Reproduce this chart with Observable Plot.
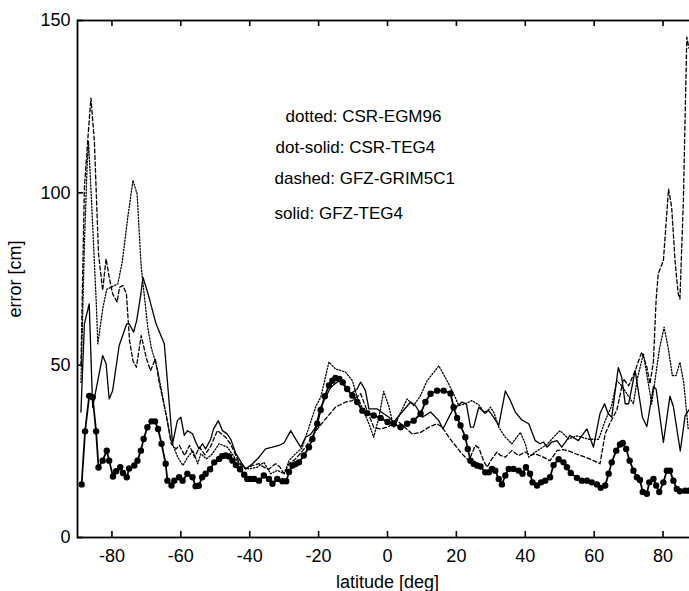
<!DOCTYPE html>
<html>
<head>
<meta charset="utf-8">
<script src="https://cdn.jsdelivr.net/npm/d3@7"></script>
<script src="https://cdn.jsdelivr.net/npm/@observablehq/plot@0.6"></script>
<style>
  html, body { margin: 0; padding: 0; background: white; overflow: hidden; }
  #chart svg { max-width: none !important; display: block; }
</style>
</head>
<body>
<div id="chart"></div>
<script>
// ---- axis ticks ----
const xTicks = [-80, -60, -40, -20, 0, 20, 40, 60, 80];
const yTicks = [0, 50, 100, 150];

// ---- dotted: CSR-EGM96 ----
const latEGM96 = [-89,-88,-87.2,-86.8,-85.8,-84.6,-84.1,-82.6,-81.5,-80.2,-78.3,-77,-75.4,-73.9,-72.7,-71.5,-69.6,-68.6,-66.7,-64.7,-62.8,-60.9,-59.4,-58,-56.5,-55.1,-54.2,-52.6,-50.8,-48.9,-46.5,-44.1,-42.1,-40.2,-37.8,-35.9,-33.9,-32,-30,-28.6,-26.7,-24.8,-22.8,-20.9,-19.4,-17,-15.1,-12.2,-10.2,-8.8,-7,-5.4,-4,-2.5,-1.1,0.4,1.8,4.3,5.7,7.6,9.5,11.5,14.9,17.3,19.5,20.7,22.6,24.5,26.5,28.4,29.9,31,32.3,34.2,36.1,38.6,40,41,42.5,44.3,46.3,48.2,50.1,52.6,55,58.4,61.3,63.2,65,66.6,68,69.5,71.4,72.5,74.3,75.5,76.7,78,79,80.3,81.5,82.7,83.8,84.9,86,87.3];
const errEGM96 = [45,85,108,115,95,69.2,56.2,66.8,72,72.6,73.6,80,92.9,103.6,99.7,78.4,61,55.2,48.4,37.8,28.1,23.3,20.9,23.3,25.2,21.4,24.3,22.8,24.3,27.2,26.2,22.8,20.4,19.9,20.4,21.8,18.5,19.5,18.5,22.3,24.3,26,32,37.8,40.7,50.9,48.9,48,45.5,40.7,37,33,29.1,34.9,42.4,38,32,37.3,40.2,38.3,41,45.5,49.8,45.5,41,38.3,38.8,39.7,38.5,35.9,37.8,36,32,29.1,27.2,30.5,27.2,23.3,24.5,25.7,27,29.1,31,28.6,29.5,28.5,28.5,33.9,38,45.5,44,41.7,38.8,46,53.3,46,38.8,48,55,61,55,47,47,50.9,45,31.5];

// ---- dot-solid: CSR-TEG4 ----
const latCSRTEG4 = [-88.8,-87.8,-86.6,-85.6,-84.6,-83.9,-82.7,-81.5,-80.8,-79.7,-78.8,-77.6,-76.8,-75.7,-75,-73.5,-72.6,-71.6,-70.8,-69.7,-68.5,-67.5,-66.6,-65.6,-64.4,-63.9,-62.7,-61.9,-60.5,-59.5,-58.1,-56.6,-55.7,-54.8,-53.8,-52.8,-51.5,-50.3,-48.9,-48,-47,-46,-45,-44,-42.8,-41.6,-40.7,-39.7,-38.7,-37.3,-35.9,-34.4,-33.4,-32,-30.5,-29.4,-28.6,-27.6,-26.7,-25.7,-24.3,-22.8,-21.8,-20.4,-19.4,-18.2,-17,-16,-15.1,-14,-13,-11.7,-10.2,-8.8,-7.3,-5.9,-4,-2,0,1.8,3.8,5.7,7.6,9.6,11,12.5,14.4,16.3,18.3,19.2,20.2,21.2,22.6,23.3,24.1,25,26,27,28.4,29.4,30.3,31.3,32.3,33.2,34.2,35.2,36.6,38.1,39.2,40.2,41.4,42.1,43.4,44.6,45.8,47.2,48.2,49.7,51.1,52.1,53.2,55,56.4,57.9,59.3,60.8,61.9,63.2,64.2,65.1,66.4,67.5,68.3,69.3,70.3,71.4,72.4,73.3,74.1,75.3,76,77.2,78,78.9,80.1,81.1,82,83,84,84.9,86.4,87.5];
const errCSRTEG4 = [15.4,30.8,41.1,40.7,30.8,20.3,22.3,25.2,22.3,17.7,19.2,20.4,18.7,17.5,20,20.9,22.3,25.2,28.6,32,33.7,33.7,31.5,27.2,21.4,16.5,15.1,16.5,17.5,16.5,18.5,17.5,14.9,15,17.5,18.5,19.8,21.8,22.8,23.6,23.8,23.5,22.3,21,19.8,18.2,17,17,17,16.5,18,17,15.6,17,16.3,16.3,19,20.9,21.3,21.8,23.8,26.2,28.6,33,37,41,44.1,45.5,46.3,46,45,43.1,41.2,39.3,36.8,36.1,35.4,34.7,33.5,33,32,33,33.9,35.9,39.3,41.7,42.6,42.6,41.8,37.8,34.7,32.5,29.1,25.7,22.3,21.4,20.9,20.6,18.9,18.9,19.9,19.4,17,15.4,18,19.9,19.9,19.4,18.5,20.4,18.5,16,15.1,16,16.5,17.5,21,22.7,21.8,20.4,18.7,17.3,16.5,16.5,16,15.4,14.4,15.1,18.5,21.8,25.2,27,27.4,25.7,22.3,19.4,17.5,16.7,13.2,12.7,16,17,15.1,13.2,16,19.4,19.4,16.5,14.1,13.4,13.6,13.6];

// ---- dashed: GFZ-GRIM5C1 ----
const latGRIM5C1 = [-89,-88,-86.9,-86.1,-85.1,-83.9,-82.7,-81.7,-80.8,-79.8,-78.5,-77.8,-76.8,-75.8,-74.9,-73.9,-72.9,-71.5,-70,-68.8,-67.4,-66.2,-64.3,-62.8,-61.4,-60.4,-58.9,-57.5,-56,-54.6,-53,-51.3,-49.4,-47,-45.5,-43.1,-41.2,-39.2,-37.3,-35.9,-34.5,-32.5,-31.3,-30,-28.6,-26.7,-23.8,-20.9,-18,-15.1,-12.2,-10.2,-7.8,-6,-4,-2,0,2.8,5,7.2,9.6,12,14.4,15.9,17.8,19.7,21.6,23.6,25.5,26.5,27.9,28.9,30.3,31.8,32.8,34.2,36.1,38.1,40,41.5,42.9,44.8,47.2,49.2,51,53,54.5,57.4,59.8,61.7,63.2,64.5,66.6,68.5,70,71.9,73.8,75.3,76.2,77.2,78,78.6,80.1,81.6,82.5,83.5,84.4,84.9,85.9,86.9,87.5];
const errGRIM5C1 = [50,101.6,117,127.5,115,82.3,71.7,80.9,75.5,70.7,68.3,72.6,73.1,70.7,57.2,51.3,49.4,58.6,52,48.4,51.8,44.6,35.9,27.2,25.7,26.7,23.8,26.7,23.3,26.2,24,26.5,31,29.1,27,21.8,19.9,20.9,21.4,20.4,19.8,21.4,20.5,18.5,21.4,22.8,26.2,30.8,34.4,37.8,39.3,39.7,41.7,37,32,31.5,32,33.9,32,30,30.5,32,33,32,29.1,26.7,24.3,22.3,26.7,26,22.3,20.4,22.8,24.8,23.8,23.3,25.2,23.8,24.8,23.8,24.3,23.5,22.3,25.2,25.5,25,24.3,23.3,22.3,21.4,30.1,33,37,46,44,48.4,53.8,49.4,44.6,51,69.2,76.5,80.4,101.1,95.8,80,70.7,69.2,97.8,145.2,142];

// ---- solid: GFZ-TEG4 ----
const latGFZTEG4 = [-89,-88,-86.6,-85.6,-84.2,-82.7,-81.7,-80.8,-79.8,-77.9,-75.7,-75,-73.7,-72.8,-71.6,-71,-69.6,-67.2,-64.8,-62.4,-61,-60,-59,-58.1,-56.6,-55.7,-54.7,-53.7,-52.8,-51.3,-50.5,-49.1,-47.9,-46.5,-45.5,-44.1,-42.6,-41.2,-39.2,-37.3,-35.4,-33.4,-31.5,-30,-28.1,-26.7,-25.2,-23.8,-22.3,-20.9,-19.4,-16.5,-14.1,-12.5,-10.7,-8.8,-7.8,-6.4,-5.4,-3,-1.1,0.4,1.8,3.8,6.7,8.1,10.1,12.5,14.9,16.1,18.8,21.6,22.9,24.1,25,26.5,27.9,29.4,30.8,32.3,34.2,35.7,37.1,39,41,42.9,44.3,45.3,46.3,47.7,49.2,50.6,53,55.4,57.9,59.8,61.7,63,64.1,65.1,67,68,69,70,71.9,74,75.3,77.2,78,80.1,82,83,85,86.4,87.5];
const errGFZTEG4 = [36.4,62,67.8,37.8,45,52.8,50.4,40.2,42.6,55.7,62,62,59.6,63,70.7,75.5,71,62,56.2,27.2,33.9,34.9,29.6,31,30.1,27.7,25.7,27.2,25.7,28.6,31.5,33.9,31,30,28.5,24.5,22,19.9,21.4,23.3,25.7,26.2,26.7,27.5,31,28.6,26.2,29.1,29.9,32,37.8,43.6,45.5,44,41.7,43.1,45.1,42.6,37.3,37.3,35.9,34.9,33.5,35.9,39.3,38.3,34.9,36.4,33.9,31.5,36.8,39.3,38.8,32,32,37.8,36.4,36.8,34.9,32.5,42.5,39.7,36.4,34.1,33,28.1,27.2,27.7,26.2,27.7,28.1,26.2,29.6,28.1,31.5,26.2,36,38.8,35.9,34.9,49.3,46.5,38.8,38.8,48.4,34.9,32.2,43.8,43,27.6,41,38,25.1,35.3,37];

// ---- legend text ----
const legendLabels = ["dotted: CSR-EGM96", "dot-solid: CSR-TEG4", "dashed: GFZ-GRIM5C1", "solid: GFZ-TEG4"];
const legendLat = [-29.6, -32.5, -32.8, -32.8];
const legendErr = [122.1, 113.1, 104.1, 94];

// ---- build tables ----
const toRows = (lat, err) => lat.map((v, i) => ({lat: v, err: err[i]}));
const egm96 = toRows(latEGM96, errEGM96);
const csrTeg4 = toRows(latCSRTEG4, errCSRTEG4);
const grim5c1 = toRows(latGRIM5C1, errGRIM5C1);
const gfzTeg4 = toRows(latGFZTEG4, errGFZTEG4);
const legend = legendLabels.map((t, i) => ({text: t, lat: legendLat[i], err: legendErr[i]}));

const W = 698, H = 591, ML = 77, MR = 1, MT = 20, MB = 54;
const innerW = W - ML - MR, innerH = H - MT - MB;
const tickLen = 6;

const chart = Plot.plot({
  width: W,
  height: H,
  marginLeft: ML,
  marginRight: MR,
  marginTop: MT,
  marginBottom: MB,
  style: {
    fontFamily: "'Liberation Sans', Arial, Helvetica, sans-serif",
    fontSize: "18px",
    color: "black",
    background: "white",
    maxWidth: "none"
  },
  x: {domain: [-90, 90]},
  y: {domain: [0, 150]},
  marks: [
    Plot.axisX({ticks: xTicks, tickSize: 0, tickPadding: 12, tickFormat: d => String(d).replace("\u2212", "-"),
      label: "latitude [deg]", labelAnchor: "center", labelOffset: 50, labelArrow: "none", fontSize: 18}),
    Plot.axisY({ticks: yTicks, tickSize: 0, tickPadding: 7, tickFormat: d => String(d),
      label: "error [cm]", labelAnchor: "center", labelOffset: 69, labelArrow: "none", fontSize: 18}),
    Plot.tickX(xTicks, {x: d => d, insetTop: innerH - tickLen, stroke: "black", strokeWidth: 1.6}),
    Plot.tickX(xTicks, {x: d => d, insetBottom: innerH - tickLen, stroke: "black", strokeWidth: 1.6}),
    Plot.tickY(yTicks, {y: d => d, insetRight: innerW - tickLen, stroke: "black", strokeWidth: 1.6}),
    Plot.line(egm96, {x: "lat", y: "err", stroke: "black", strokeWidth: 1.3, strokeDasharray: "1.3,1.8"}),
    Plot.line(grim5c1, {x: "lat", y: "err", stroke: "black", strokeWidth: 1.3, strokeDasharray: "4,2.5"}),
    Plot.line(gfzTeg4, {x: "lat", y: "err", stroke: "black", strokeWidth: 1.3}),
    Plot.line(csrTeg4, {x: "lat", y: "err", stroke: "black", strokeWidth: 1.8}),
    Plot.dot(csrTeg4, {x: "lat", y: "err", r: 3.2, fill: "black", stroke: "none"}),
    Plot.text(legend, {x: "lat", y: "err", text: "text", textAnchor: "start", fontSize: 17, fill: "black"}),
    Plot.frame({stroke: "black", strokeWidth: 1.8})
  ]
});
document.getElementById("chart").appendChild(chart);
</script>
</body>
</html>
